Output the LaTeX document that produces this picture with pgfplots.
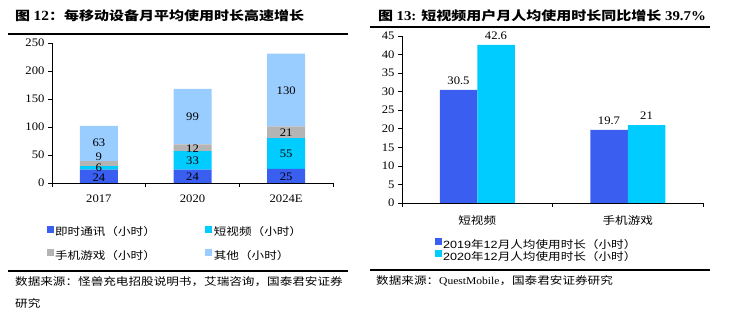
\documentclass[border=0pt]{standalone}
\usepackage{fontspec}
\setmainfont{Liberation Serif}[FakeStretch=1.1]
\newfontfamily\cjk{Noto Sans CJK SC}[FakeStretch=1.2]
\newfontfamily\arl{Liberation Sans}[FakeStretch=1.2]
\usepackage{pgfplots}
\pgfplotsset{compat=1.18}
\definecolor{cA}{RGB}{58,95,240}
\definecolor{cB}{RGB}{0,204,255}
\definecolor{cC}{RGB}{180,180,180}
\definecolor{cD}{RGB}{153,204,255}
\newcommand\fs{\fontsize{10.5}{12.5}\selectfont}
\newcommand\ft{\fontsize{11.5}{13.5}\selectfont}
\pgfplotsset{
  base/.style={
    scale only axis,
    axis x line*=bottom, axis y line*=left,
    axis line style={black, line width=0.7pt},
    tick style={black, line width=0.7pt},
    tick align=outside,
    major tick length=4pt,
    minor tick length=4pt,
    xtick style={draw=none},
    every minor x tick/.append style={draw=black},
    /pgf/number format/assume math mode=true,
    tick label style={font=\ft},
    legend cell align=left,
  },
  sqlegend/.style={
    legend image code/.code={\fill[##1] (0pt,-1pt) rectangle (7pt,6pt);},
  },
}
\begin{document}
\begin{tikzpicture}
\path[use as bounding box] (0pt,0pt) rectangle (734pt,321pt);
% ---------- left chart ----------
\node[anchor=west, inner sep=0pt] at (15pt,305.5pt) {\bfseries{\fontsize{12.5}{15}\selectfont\cjk 图 }{\fontsize{14}{15}\selectfont 12}{\fontsize{12.5}{15}\selectfont\cjk ：每移动设备月平均使用时长高速增长}};
\draw[line width=1.6pt] (8pt,287pt) -- (348pt,287pt);
\begin{axis}[base, at={(52pt,138pt)}, anchor=south west, width=281pt, height=140pt,
  xmin=-0.5, xmax=2.5, ymin=0, ymax=250, ytick={0,50,...,250},
  xtick={0,1,2}, xticklabels={2017,2020,2024E}, minor xtick={-0.5,0.5,1.5,2.5},
  xticklabel style={yshift=-4pt},
  ybar stacked, bar width=38pt, sqlegend,
  legend columns=2,
  legend style={at={(-0.02,-0.30)}, anchor=north west, draw=none, fill=none, font=\cjk\fs,
    /tikz/every even column/.append style={column sep=48pt},
    row sep=10pt, inner sep=0pt, nodes={inner sep=1.5pt}},
]
\addplot[fill=cA, draw=none] coordinates {(0,24) (1,24) (2,25)};
\addlegendentry{即时通讯（小时）}
\addplot[fill=cB, draw=none] coordinates {(0,6) (1,33) (2,55)};
\addlegendentry{短视频（小时）}
\addplot[fill=cC, draw=none] coordinates {(0,9) (1,12) (2,21)};
\addlegendentry{手机游戏（小时）}
\addplot[fill=cD, draw=none] coordinates {(0,63) (1,99) (2,130)};
\addlegendentry{其他（小时）}
\end{axis}
\begin{axis}[at={(52pt,138pt)}, anchor=south west, scale only axis, width=281pt, height=140pt,
  xmin=-0.5, xmax=2.5, ymin=0, ymax=250, hide axis]
\addplot[draw=none, mark=none, nodes near coords, point meta=explicit symbolic,
  every node near coord/.append style={font=\ft, anchor=center, inner sep=0pt}]
  coordinates {(0,9)[24] (0,27.5)[6] (0,46)[9] (0,71)[63]
               (1,11)[24] (1,40)[33] (1,61)[12] (1,118)[99]
               (2,12)[25] (2,53)[55] (2,90)[21] (2,165)[130]};
\end{axis}
\draw[line width=1.6pt] (8pt,50pt) -- (348pt,50pt);
\node[anchor=west, inner sep=0pt] at (15pt,39pt) {\cjk\fs 数据来源：怪兽充电招股说明书，艾瑞咨询，国泰君安证券};
\node[anchor=west, inner sep=0pt] at (15pt,18pt) {\cjk\fs 研究};
% ---------- right chart ----------
\node[anchor=west, inner sep=0pt] at (378pt,305.5pt) {\bfseries{\fontsize{12.5}{15}\selectfont\cjk 图 }{\fontsize{13.5}{15}\selectfont 13: }{\fontsize{12.5}{15}\selectfont\cjk 短视频用户月人均使用时长同比增长}{\fontsize{13.5}{15}\selectfont\ 39.7\%}};
\draw[line width=1.6pt] (370pt,294pt) -- (710pt,294pt);
\begin{axis}[base, at={(402pt,118pt)}, anchor=south west, width=301pt, height=167pt,
  xmin=-0.5, xmax=1.5, ymin=0, ymax=45, ytick={0,5,...,45},
  xtick={0,1}, xticklabels={{\cjk\fs 短视频},{\cjk\fs 手机游戏}}, minor xtick={-0.5,0.5,1.5},
  xticklabel style={yshift=-5pt},
  ybar=0pt, bar width=37.5pt, sqlegend,
  nodes near coords, every node near coord/.append style={font=\ft, yshift=2pt},
  legend style={at={(0.11,-0.21)}, anchor=north west, draw=none, fill=none, font=\cjk\fs,
    row sep=0pt, inner sep=0pt, nodes={inner sep=0.8pt}},
]
\addplot[fill=cA, draw=none] coordinates {(0,30.5) (1,19.7)};
\addlegendentry{{\arl 2019}年{\arl 12}月人均使用时长（小时）}
\addplot[fill=cB, draw=none] coordinates {(0,42.6) (1,21)};
\addlegendentry{{\arl 2020}年{\arl 12}月人均使用时长（小时）}
\end{axis}
\draw[line width=1.6pt] (370pt,51pt) -- (710pt,51pt);
\node[anchor=west, inner sep=0pt] at (376pt,40pt) {\cjk\fs 数据来源：{\rmfamily QuestMobile}，国泰君安证券研究};
\end{tikzpicture}
\end{document}
